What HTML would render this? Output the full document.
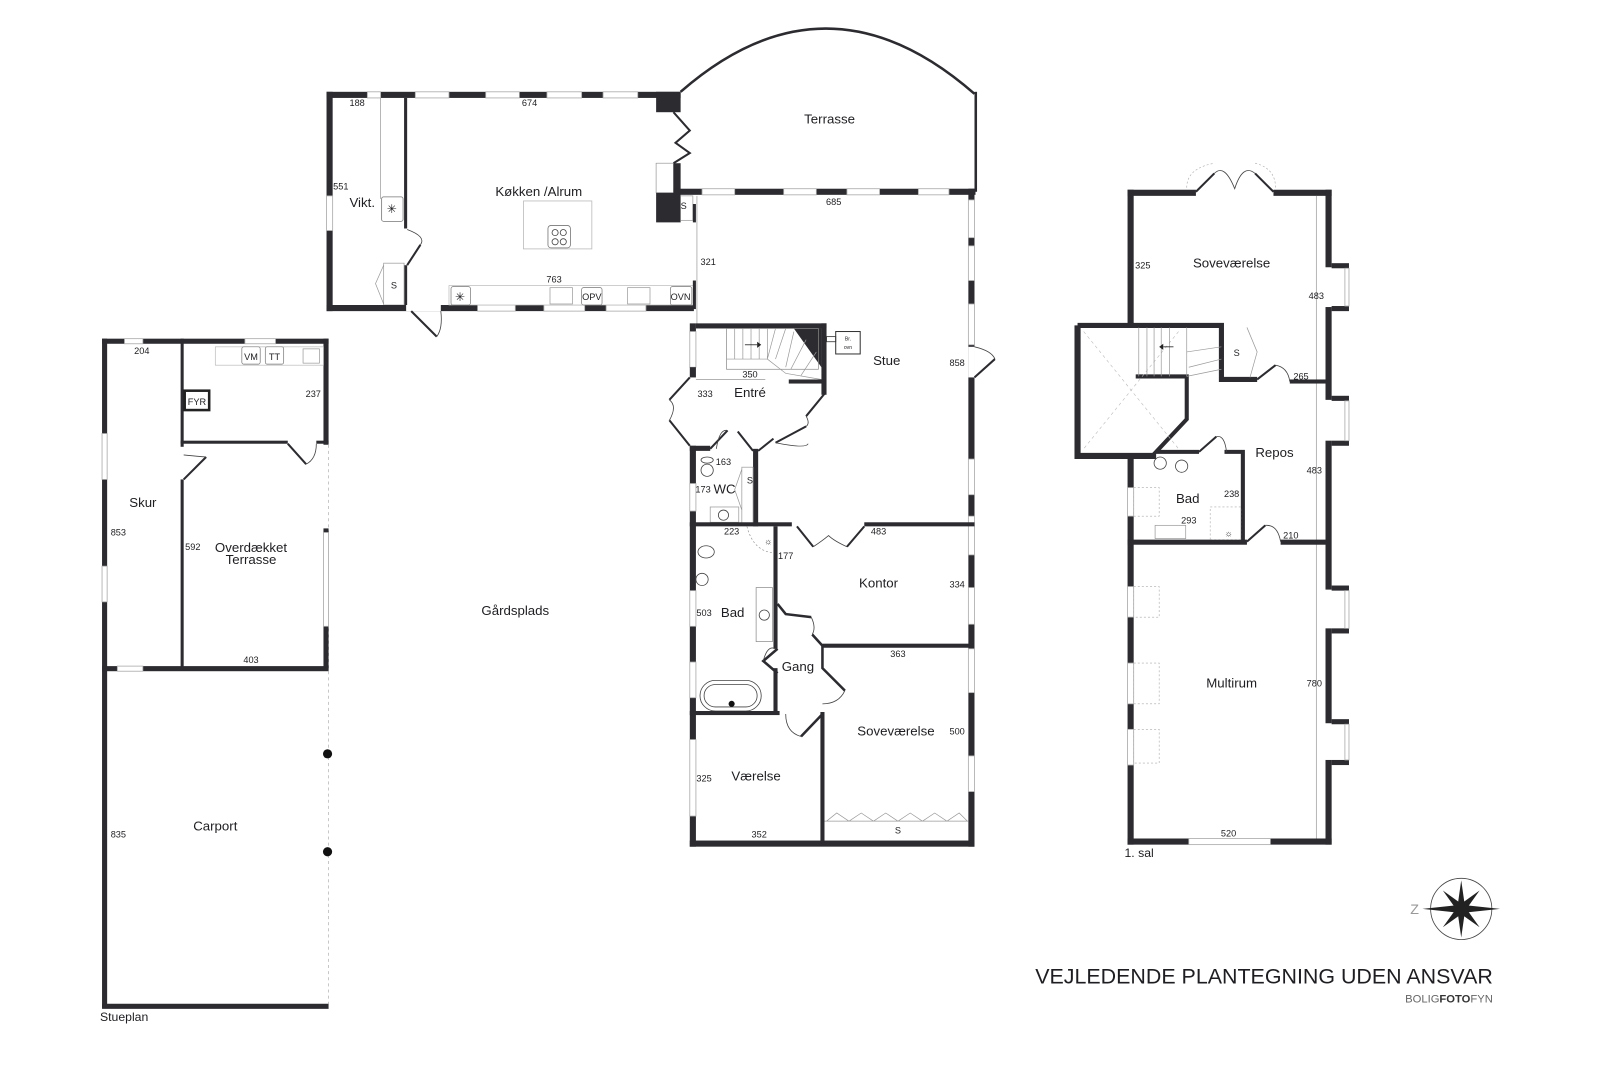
<!DOCTYPE html>
<html><head><meta charset="utf-8"><style>
html,body{margin:0;padding:0;background:#fff;}
svg{display:block}
text{font-family:"Liberation Sans",sans-serif;fill:#1e1e22}
.w{fill:#2b2b30}
.win{fill:#fff;stroke:#aaa;stroke-width:0.8}
.t{font-size:13px;text-anchor:middle}
.d{font-size:9px;text-anchor:middle}
.ln{stroke:#2b2b30;stroke-width:3;fill:none}
.th{stroke:#999;stroke-width:0.7;fill:none}
.arc{stroke:#444;stroke-width:0.8;fill:none}
</style></head><body>
<svg width="1600" height="1067" viewBox="0 0 1568 1046" preserveAspectRatio="none" xmlns="http://www.w3.org/2000/svg">
<rect width="1568" height="1046" fill="#fff"/>

<!-- ===== KITCHEN BLOCK ===== -->
<rect class="w" x="320" y="90" width="347" height="6"/>
<rect class="win" x="360" y="90" width="13" height="6"/>
<rect class="win" x="407" y="90" width="33" height="6"/>
<rect class="win" x="476" y="90" width="33" height="6"/>
<rect class="win" x="536" y="90" width="34" height="6"/>
<rect class="win" x="591" y="90" width="34" height="6"/>
<rect class="w" x="643" y="90" width="24" height="20"/>
<rect class="w" x="320" y="90" width="6" height="215"/>
<rect class="win" x="320" y="192" width="6" height="34"/>
<rect class="w" x="396" y="96" width="3" height="128"/>
<rect class="w" x="396" y="260" width="3" height="40"/>
<line class="th" x1="373" y1="96" x2="373" y2="195"/>
<rect x="374" y="193" width="21" height="24" fill="#fff" stroke="#777" stroke-width="0.8" rx="2"/>
<text x="384" y="209" class="d" style="font-size:12px">✳</text>
<path class="ln" d="M399 260 L412 240" style="stroke-width:2"/>
<path class="arc" d="M399 225 Q418 232 412 240"/>
<rect x="376" y="258" width="20" height="41" fill="#fff" stroke="#999" stroke-width="0.7"/>
<path class="th" d="M376 260 L368 278 L376 298"/>
<text x="386" y="283" class="d">S</text>
<rect class="w" x="320" y="299" width="360" height="6"/>
<rect class="win" x="468" y="299" width="37" height="6"/>
<rect class="win" x="533" y="299" width="40" height="6"/>
<rect class="win" x="594" y="299" width="39" height="6"/>
<rect x="398" y="299" width="34" height="6" fill="#fff"/>
<path class="ln" d="M403 305 L428 330" style="stroke-width:2"/>
<path class="arc" d="M432 305 Q434 322 428 330"/>
<rect x="440" y="280" width="240" height="19" fill="#fff" stroke="#bbb" stroke-width="0.7"/>
<rect x="442" y="281" width="19" height="18" fill="#fff" stroke="#777" stroke-width="0.7" rx="2"/>
<text x="451" y="295" class="d" style="font-size:12px">✳</text>
<rect x="539" y="282" width="22" height="16" fill="#fff" stroke="#999" stroke-width="0.7"/>
<rect x="570" y="282" width="20" height="17" fill="#fff" stroke="#777" stroke-width="0.7" rx="2"/>
<text x="580" y="294" class="d">OPV</text>
<rect x="615" y="282" width="22" height="16" fill="#fff" stroke="#999" stroke-width="0.7"/>
<rect x="657" y="281" width="21" height="18" fill="#fff" stroke="#777" stroke-width="0.7" rx="2"/>
<text x="667" y="294" class="d">OVN</text>
<rect x="513" y="197" width="67" height="47" fill="#fff" stroke="#bbb" stroke-width="0.8"/>
<rect x="537" y="221" width="22" height="22" fill="#fff" stroke="#777" stroke-width="0.8" rx="3"/>
<circle cx="544" cy="228" r="3" class="arc"/><circle cx="552" cy="228" r="3" class="arc"/>
<circle cx="544" cy="237" r="3" class="arc"/><circle cx="552" cy="237" r="3" class="arc"/>
<path class="ln" d="M660 110 L676 128 L662 140 L676 150 L660 160" style="stroke-width:2"/>
<rect x="643" y="160" width="17" height="29" fill="#fff" stroke="#999" stroke-width="0.7"/>
<rect class="w" x="643" y="189" width="24" height="29"/>
<rect class="w" x="660" y="160" width="7" height="30"/>
<rect x="667" y="192" width="12" height="24" fill="#fff" stroke="#999" stroke-width="0.7"/>
<text x="670" y="205" class="d">S</text>
<rect class="w" x="679" y="200" width="3" height="18"/>
<rect class="w" x="679" y="275" width="3" height="28"/>
<line class="th" x1="683" y1="192" x2="683" y2="320"/>

<text x="528" y="192" class="t">Køkken /Alrum</text>
<text x="355" y="203" class="t">Vikt.</text>
<text x="350" y="104" class="d">188</text>
<text x="519" y="104" class="d">674</text>
<text x="334" y="186" class="d">551</text>
<text x="543" y="277" class="d">763</text>
<text x="694" y="260" class="d">321</text>

<!-- ===== TERRASSE ===== -->
<path d="M667 90 Q810 -35 955 92" stroke="#2b2b30" stroke-width="2.5" fill="none"/>
<rect x="955" y="90" width="2.5" height="98" class="w"/>
<rect class="w" x="660" y="185" width="296" height="6"/>
<rect class="win" x="688" y="185" width="32" height="6"/>
<rect class="win" x="768" y="185" width="32" height="6"/>
<rect class="win" x="830" y="185" width="32" height="6"/>
<rect class="win" x="900" y="185" width="30" height="6"/>
<text x="813" y="121" class="t">Terrasse</text>
<text x="817" y="201" class="d">685</text>

<!-- ===== MAIN HOUSE ===== -->
<rect class="w" x="949" y="185" width="6" height="645"/>
<rect class="win" x="949" y="196" width="6" height="37"/>
<rect class="win" x="949" y="241" width="6" height="34"/>
<rect class="win" x="949" y="298" width="6" height="40"/>
<rect x="949" y="340" width="6" height="30" fill="#fff"/>
<path class="ln" d="M955 370 L975 352" style="stroke-width:2"/>
<path class="arc" d="M955 340 Q972 344 975 352"/>
<rect class="win" x="949" y="450" width="6" height="35"/>
<rect class="win" x="949" y="506" width="6" height="38"/>
<rect class="win" x="949" y="576" width="6" height="36"/>
<rect class="win" x="949" y="636" width="6" height="43"/>
<rect class="win" x="949" y="741" width="6" height="35"/>
<rect class="w" x="676" y="824" width="279" height="6"/>
<rect class="w" x="676" y="317" width="6" height="8"/>
<rect class="win" x="676" y="325" width="6" height="35"/>
<rect class="w" x="676" y="360" width="6" height="10"/>
<rect class="w" x="676" y="437" width="6" height="393"/>
<rect class="win" x="676" y="474" width="6" height="27"/>
<rect class="win" x="676" y="579" width="6" height="35"/>
<rect class="win" x="676" y="649" width="6" height="35"/>
<rect class="win" x="676" y="725" width="6" height="75"/>
<path class="ln" d="M676 370 L656 392 M676 437 L656 412" style="stroke-width:2"/>
<path class="arc" d="M656 392 Q664 398 656 412"/>
<rect class="w" x="682" y="317" width="128" height="5"/>
<rect class="w" x="805" y="317" width="5" height="70"/>
<path class="w" d="M778 322 L805 322 L805 360 Z"/>
<rect x="712" y="322" width="90" height="40" fill="none" stroke="#888" stroke-width="0.7"/>
<path class="th" d="M720 322v30 M728 322v30 M736 322v30 M744 322v30 M752 322v30 M712 352h40 M752 352 L770 366 L805 372 M760 322 L752 352 M770 322 L760 352 M778 325 L770 360 M790 333 L775 362 M800 345 L785 368"/>
<path d="M730 338 h12" stroke="#222" stroke-width="0.8"/><path d="M742 335 l4 3 l-4 3z" fill="#222"/>
<rect class="w" x="773" y="372" width="36" height="4"/>
<line class="th" x1="682" y1="372" x2="750" y2="372"/>
<path class="ln" d="M808 386 L790 408 M790 418 L760 434" style="stroke-width:2"/>
<path class="arc" d="M790 408 Q794 415 790 418 M760 434 Q790 440 792 435"/>
<rect x="819" y="325" width="24" height="22" fill="#fff" stroke="#333" stroke-width="1"/>
<rect x="810" y="330" width="9" height="5" fill="none" stroke="#333" stroke-width="0.8"/>
<text x="831" y="334" style="font-size:5px" text-anchor="middle">Br.</text>
<text x="831" y="342" style="font-size:5px" text-anchor="middle">ovn</text>
<text x="735" y="389" class="t">Entré</text>
<text x="735" y="370" class="d">350</text>
<text x="691" y="389" class="d">333</text>
<text x="869" y="358" class="t">Stue</text>
<text x="938" y="359" class="d">858</text>
<rect class="w" x="676" y="437" width="20" height="5"/>
<rect class="w" x="738" y="440" width="5" height="76"/>
<path class="ln" d="M696 440 L713 422 M723 423 L738 442 M743 442 L758 430" style="stroke-width:2"/>
<path class="arc" d="M702 440 Q705 420 713 422"/>
<rect x="727" y="458" width="11" height="55" fill="#fff" stroke="#999" stroke-width="0.7"/>
<path class="th" d="M727 460 L720 480 L727 500"/>
<text x="735" y="474" class="d">S</text>
<ellipse cx="693" cy="461" rx="6" ry="6" class="arc"/><ellipse cx="693" cy="451" rx="6" ry="3" class="arc"/>
<rect x="696" y="497" width="28" height="15" fill="#fff" stroke="#999" stroke-width="0.7"/>
<circle cx="709" cy="505" r="5" class="arc"/>
<text x="710" y="484" class="t">WC</text>
<text x="709" y="456" class="d">163</text>
<text x="689" y="483" class="d">173</text>
<rect class="w" x="676" y="512" width="100" height="4"/>
<rect class="w" x="847" y="512" width="108" height="4"/>
<path class="ln" d="M781 516 L797 536 M847 516 L830 536" style="stroke-width:2"/>
<path class="arc" d="M797 536 Q806 530 812 525 Q817 530 830 536"/>
<text x="717" y="524" class="d">223</text>
<text x="861" y="524" class="d">483</text>
<rect class="w" x="758" y="516" width="4" height="120"/>
<rect class="w" x="758" y="655" width="4" height="45"/>
<path d="M732 516 Q738 540 758 542" stroke="#999" stroke-width="0.7" stroke-dasharray="2 2" fill="none"/>
<text x="753" y="534" class="d">☼</text>
<text x="770" y="548" class="d">177</text>
<ellipse cx="692" cy="541" rx="8" ry="6" class="arc"/>
<ellipse cx="688" cy="568" rx="6" ry="6" class="arc"/>
<rect x="741" y="576" width="16" height="53" fill="#fff" stroke="#888" stroke-width="0.7"/>
<circle cx="749" cy="603" r="5" class="arc"/>
<rect x="686" y="667" width="60" height="30" rx="15" class="arc"/>
<rect x="690" y="671" width="52" height="22" rx="11" class="arc"/>
<circle cx="717" cy="690" r="3" fill="#111"/>
<rect class="w" x="676" y="697" width="88" height="4"/>
<text x="718" y="605" class="t">Bad</text>
<text x="690" y="604" class="d">503</text>
<path class="ln" d="M762 592 L770 602 L795 605 M796 622 L806 633 M762 636 L748 648 L762 660 M806 633 L806 655 L828 677 M806 700 L806 824 M785 722 L805 701" style="stroke-width:2.5"/>
<path class="arc" d="M795 605 Q800 615 796 622 M748 648 Q752 632 760 636 M828 677 Q822 690 806 690 M770 700 Q770 718 785 722"/>
<rect class="w" x="806" y="631" width="144" height="4"/>
<text x="782" y="658" class="t">Gang</text>
<text x="861" y="576" class="t">Kontor</text>
<text x="938" y="576" class="d">334</text>
<text x="880" y="644" class="d">363</text>
<text x="878" y="721" class="t">Soveværelse</text>
<text x="938" y="720" class="d">500</text>
<rect class="w" x="804" y="698" width="4" height="128"/>
<path class="th" d="M810 805 L820 797 L832 805 L844 797 L856 805 L868 797 L880 805 L892 797 L904 805 L916 797 L928 805 L940 797 L948 805 M808 805 H949"/>
<text x="880" y="817" class="d">S</text>
<text x="741" y="765" class="t">Værelse</text>
<text x="690" y="766" class="d">325</text>
<text x="744" y="821" class="d">352</text>

<!-- ===== LEFT BUILDING ===== -->
<rect class="w" x="100" y="332" width="222" height="5"/>
<rect class="win" x="122" y="332" width="18" height="5"/>
<rect class="win" x="240" y="332" width="30" height="5"/>
<rect class="w" x="100" y="332" width="5" height="656"/>
<rect class="win" x="100" y="425" width="5" height="45"/>
<rect class="win" x="100" y="555" width="5" height="35"/>
<rect class="w" x="317" y="332" width="5" height="104"/>
<rect class="w" x="177" y="332" width="3" height="106"/>
<rect class="w" x="177" y="470" width="3" height="187"/>
<path class="ln" d="M180 470 L202 448" style="stroke-width:2"/>
<path class="arc" d="M180 446 Q200 448 202 448"/>
<rect class="w" x="177" y="432" width="105" height="3"/>
<rect class="w" x="310" y="432" width="12" height="3"/>
<path class="ln" d="M282 435 L300 455" style="stroke-width:2"/>
<path class="arc" d="M300 455 Q310 450 310 435"/>
<line x1="322" y1="436" x2="322" y2="984" stroke="#bbb" stroke-width="0.8" stroke-dasharray="3 3"/>
<rect class="w" x="317" y="518" width="5" height="139"/>
<rect class="win" x="317" y="522" width="5" height="92"/>
<rect class="w" x="100" y="653" width="222" height="5"/>
<rect class="win" x="115" y="653" width="25" height="5"/>
<rect class="w" x="100" y="984" width="222" height="5"/>
<circle cx="321" cy="739" r="4.5" fill="#111"/>
<circle cx="321" cy="835" r="4.5" fill="#111"/>
<rect x="211" y="340" width="106" height="18" fill="#fff" stroke="#bbb" stroke-width="0.7"/>
<rect x="237" y="340" width="18" height="17" fill="#fff" stroke="#777" stroke-width="0.7" rx="2"/>
<text x="246" y="353" class="d">VM</text>
<rect x="260" y="340" width="18" height="17" fill="#fff" stroke="#777" stroke-width="0.7" rx="2"/>
<text x="269" y="353" class="d">TT</text>
<rect x="297" y="342" width="16" height="14" fill="#fff" stroke="#999" stroke-width="0.7"/>
<rect x="181" y="383" width="24" height="19" fill="#fff" stroke="#222" stroke-width="2.5"/>
<text x="193" y="397" class="d">FYR</text>
<text x="139" y="347" class="d">204</text>
<text x="307" y="389" class="d">237</text>
<text x="140" y="497" class="t">Skur</text>
<text x="116" y="525" class="d">853</text>
<text x="189" y="539" class="d">592</text>
<text x="246" y="541" class="t">Overdækket</text>
<text x="246" y="553" class="t">Terrasse</text>
<text x="246" y="650" class="d">403</text>
<text x="211" y="814" class="t">Carport</text>
<text x="116" y="821" class="d">835</text>
<text x="98" y="1001" style="font-size:12px">Stueplan</text>
<text x="505" y="603" class="t">Gårdsplads</text>

<!-- ===== 1. SAL ===== -->
<rect class="w" x="1105" y="186" width="67" height="6"/>
<rect class="w" x="1248" y="186" width="57" height="6"/>
<path class="ln" d="M1172 188 L1190 170 M1248 188 L1230 170" style="stroke-width:2"/>
<path class="arc" d="M1190 170 Q1200 160 1210 185 Q1218 160 1230 170"/>
<path d="M1163 184 Q1163 165 1190 160 M1230 160 Q1250 165 1250 184" stroke="#aaa" stroke-width="0.6" stroke-dasharray="2 2" fill="none"/>
<rect class="w" x="1105" y="186" width="6" height="132"/>
<rect class="w" x="1105" y="447" width="6" height="381"/>
<rect class="win" x="1105" y="478" width="6" height="28"/>
<rect class="win" x="1105" y="575" width="6" height="30"/>
<rect class="win" x="1105" y="650" width="6" height="40"/>
<rect class="win" x="1105" y="715" width="6" height="35"/>
<rect x="1111" y="478" width="25" height="28" fill="none" stroke="#aaa" stroke-width="0.6" stroke-dasharray="2 2"/>
<rect x="1111" y="575" width="25" height="30" fill="none" stroke="#aaa" stroke-width="0.6" stroke-dasharray="2 2"/>
<rect x="1111" y="650" width="25" height="40" fill="none" stroke="#aaa" stroke-width="0.6" stroke-dasharray="2 2"/>
<rect x="1111" y="715" width="25" height="33" fill="none" stroke="#aaa" stroke-width="0.6" stroke-dasharray="2 2"/>
<rect class="w" x="1105" y="822" width="200" height="6"/>
<rect class="win" x="1165" y="822" width="80" height="6"/>
<rect class="w" x="1299" y="186" width="6" height="76"/>
<rect class="w" x="1299" y="301" width="6" height="91"/>
<rect class="w" x="1299" y="432" width="6" height="146"/>
<rect class="w" x="1299" y="616" width="6" height="93"/>
<rect class="w" x="1299" y="745" width="6" height="83"/>
<line class="th" x1="1290" y1="192" x2="1290" y2="822"/>
<g>
<rect class="w" x="1305" y="258" width="17" height="5"/><rect class="w" x="1305" y="300" width="17" height="5"/><rect class="win" x="1318" y="263" width="4" height="37"/>
<rect class="w" x="1305" y="388" width="17" height="5"/><rect class="w" x="1305" y="432" width="17" height="5"/><rect class="win" x="1318" y="393" width="4" height="39"/>
<rect class="w" x="1305" y="574" width="17" height="5"/><rect class="w" x="1305" y="616" width="17" height="5"/><rect class="win" x="1318" y="579" width="4" height="37"/>
<rect class="w" x="1305" y="705" width="17" height="5"/><rect class="w" x="1305" y="745" width="17" height="5"/><rect class="win" x="1318" y="710" width="4" height="35"/>
</g>
<path d="M1056 319 H1197 V372 H1232 M1197 372 V319" stroke="#2b2b30" stroke-width="5" fill="none"/>
<path d="M1056 319 V447 H1133" stroke="#2b2b30" stroke-width="6" fill="none"/>
<path d="M1113 369 H1163 V411 L1133 443 H1175 M1200 443 H1218 V530" stroke="#2b2b30" stroke-width="4" fill="none"/>
<path d="M1062 325 L1155 440 M1155 325 L1062 440" stroke="#bbb" stroke-width="0.6" stroke-dasharray="3 3"/>
<path class="th" d="M1116 321v48 M1124 321v48 M1131 321v48 M1138 321v48 M1146 321v48 M1163 321 L1163 369 M1163 345 L1197 340 M1165 360 L1197 352 M1163 369 L1197 362"/>
<path d="M1150 340 h-10" stroke="#222" stroke-width="0.8"/><path d="M1140 337 l-4 3 l4 3z" fill="#222"/>
<path class="th" d="M1222 321 L1232 345 L1225 370"/>
<text x="1212" y="349" class="d">S</text>
<path class="ln" d="M1232 372 L1250 358" style="stroke-width:2"/>
<path class="arc" d="M1250 358 Q1262 360 1264 374"/>
<rect class="w" x="1264" y="372" width="35" height="4"/>
<path class="ln" d="M1175 443 L1192 428" style="stroke-width:2"/>
<path class="arc" d="M1192 428 Q1200 426 1202 443"/>
<rect class="w" x="1105" y="529" width="117" height="5"/>
<path class="ln" d="M1222 531 L1240 515" style="stroke-width:2"/>
<path class="arc" d="M1240 515 Q1252 514 1255 531"/>
<rect class="w" x="1255" y="529" width="44" height="5"/>
<ellipse cx="1137" cy="454" rx="6" ry="6" class="arc"/><ellipse cx="1158" cy="457" rx="6" ry="6" class="arc"/>
<rect x="1132" y="515" width="30" height="13" fill="#fff" stroke="#999" stroke-width="0.7"/>
<rect x="1186" y="497" width="30" height="32" fill="none" stroke="#aaa" stroke-width="0.6" stroke-dasharray="2 2"/>
<text x="1204" y="526" class="d">☼</text>
<text x="1207" y="262" class="t">Soveværelse</text>
<text x="1120" y="263" class="d">325</text>
<text x="1290" y="293" class="d">483</text>
<text x="1275" y="372" class="d">265</text>
<text x="1249" y="448" class="t">Repos</text>
<text x="1288" y="464" class="d">483</text>
<text x="1164" y="493" class="t">Bad</text>
<text x="1207" y="487" class="d">238</text>
<text x="1165" y="513" class="d">293</text>
<text x="1265" y="528" class="d">210</text>
<text x="1207" y="674" class="t">Multirum</text>
<text x="1288" y="673" class="d">780</text>
<text x="1204" y="820" class="d">520</text>
<text x="1102" y="840" style="font-size:12px">1. sal</text>

<g transform="translate(1432,891)">
<circle r="30" fill="none" stroke="#444" stroke-width="0.8"/>
<path d="M-38 0 L0 -4 L38 0 L0 4 Z" fill="#222"/>
<path d="M0 -28 L4 0 L0 28 L-4 0 Z" fill="#222"/>
<path d="M-18 -18 L3 -3 L18 18 L-3 3 Z" fill="#222"/>
<path d="M18 -18 L3 3 L-18 18 L-3 -3 Z" fill="#222"/>
</g>
<text x="1382" y="896" style="font-size:14px;fill:#999">Z</text>
<text x="1463" y="964" style="font-size:21px;text-anchor:end;font-family:'Liberation Sans',sans-serif">VEJLEDENDE PLANTEGNING UDEN ANSVAR</text>
<text x="1463" y="983" style="font-size:11px;text-anchor:end;fill:#666">BOLIG<tspan style="font-weight:bold;fill:#333">FOTO</tspan>FYN</text>
</svg>
</body></html>
